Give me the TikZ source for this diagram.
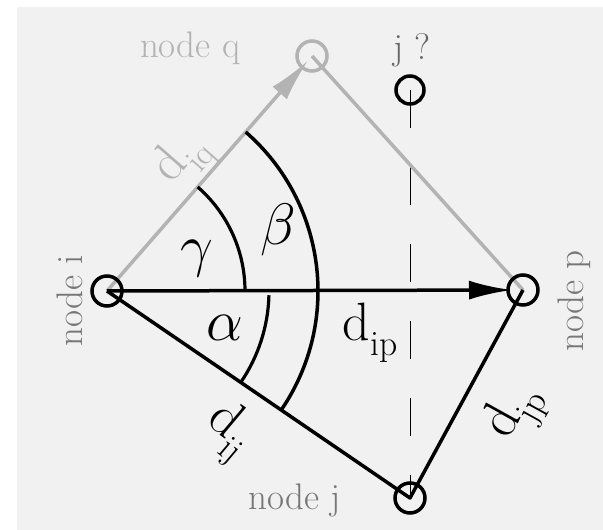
\documentclass[tikz,border=0pt]{standalone}
\usetikzlibrary{arrows.meta,calc}
\definecolor{bgc}{HTML}{F1F1F1}
\definecolor{lgray}{HTML}{B3B3B3}
\definecolor{mgray}{HTML}{777777}
\definecolor{dgray}{HTML}{666666}
\newcommand{\bigsym}[1]{\scalebox{2.35}{\fontsize{24.88}{26}\selectfont$#1$}}
\newcommand{\dlab}[2]{d\raisebox{-0.28em}{\fontsize{0.66em}{0.7em}\selectfont #1}}
\begin{document}
\begin{tikzpicture}[x=1pt,y=1pt,
  ln/.style={line width=3.5pt},
  arcln/.style={line width=3.2pt},
  vtx/.style={circle,draw,line width=3.5pt,minimum size=30pt,inner sep=0pt},
  lbl/.style={font=\fontsize{37}{39}\selectfont,text=mgray,inner sep=0pt},
  ang/.style={inner sep=0pt},
  dist/.style={font=\fontsize{54}{56}\selectfont,inner sep=0pt},
  headtip/.style={-{Latex[length=43pt,width=19pt]}}
]
\useasboundingbox (0,0) rectangle (603,530);
\fill[bgc] (17,0) rectangle (603,523);
\coordinate (i) at (107,239);
\coordinate (p) at (523,240);
\coordinate (q) at (312,474);
\coordinate (j) at (410,32);
\coordinate (jq) at (410,440);
% dashed vertical
\draw[line width=1pt,dash pattern=on 38pt off 39pt] (jq) -- (j);
% edges
\draw[ln,lgray] (q) -- (p);
\draw[ln,lgray,headtip] (i) -- ($(q)!6pt!(i)$);
\draw[ln,line join=round] (i) -- (j) -- (p);
\draw[ln,headtip] (i) -- ($(p)!11pt!(i)$);
% arcs
\draw[arcln] ($(i)+(0:138)$) arc[start angle=0,end angle=48.9,radius=138];
\draw[ln] ($(i)+(-34.3:211)$) arc[start angle=-34.3,end angle=48.9,radius=211];
\draw[arcln] ($(i)+(-1.5:162)$) arc[start angle=-1.5,end angle=-34.3,radius=162];
% vertices
\node[vtx] (ci) at (i) {};
\node[vtx] (cp) at (p) {};
\node[vtx] (cj) at (j) {};
\node[vtx,draw=lgray] (cq) at (q) {};
\node[vtx,minimum size=28pt] (cjq) at (jq) {};
% labels
\node[lbl,rotate=90,anchor=base] (li) at (82,229) {node i};
\node[lbl,rotate=90,anchor=base] (lp) at (583,229) {node p};
\node[lbl,anchor=base,text=lgray] (lq) at (190,472) {node q};
\node[lbl,anchor=base,text=dgray] (ljq) at (412,470) {j ?};
\node[lbl,anchor=base] (lj) at (295,20) {node j};
% angles
\node[ang] (gam) at (197,271) {\bigsym{\gamma}};
\node[ang] (bet) at (278,300) {\bigsym{\beta}};
\node[ang] (alp) at (225,202) {\bigsym{\alpha}};
% distances
\node[dist] (dip) at (370,197) {\dlab{ip}{}};
\node[dist,text=lgray,rotate=48.9,font=\fontsize{52}{54}\selectfont] (diq) at (183,370) {\dlab{iq}{}};
\node[dist,rotate=-40,font=\fontsize{54}{56}\selectfont] (dij) at (228,98) {\dlab{ij}{}};
\node[dist,rotate=61,font=\fontsize{54}{56}\selectfont] (djp) at (515,117) {\dlab{jp}{}};
\end{tikzpicture}
\end{document}
